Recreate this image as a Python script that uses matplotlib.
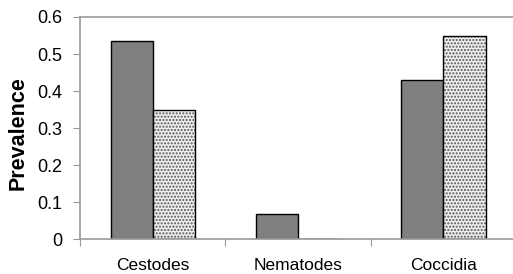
import matplotlib.pyplot as plt
import numpy as np

plt.rcParams['font.family'] = ['Liberation Sans', 'DejaVu Sans']

categorias = ['Cestodes', 'Nematodes', 'Coccidia']
serie1 = [0.535, 0.07, 0.43]
serie2 = [0.35, 0.0, 0.55]
ticks_y = [0, 0.1, 0.2, 0.3, 0.4, 0.5, 0.6]

fig = plt.figure(figsize=(5.13, 2.74), dpi=100)
ax = fig.add_axes([0.156, 0.126, 0.85, 0.812])

x = np.arange(len(categorias))
w = 0.29

# barras escuras
ax.bar(x + 0.5 - w / 2, serie1, w, color='#808080', edgecolor='black', linewidth=1)
# barras pontilhadas: preenchimento + hachura cinza, depois contorno preto
ax.bar(x + 0.5 + w / 2, serie2, w, color='#eeeeee', edgecolor='#555555', hatch='.....', linewidth=0)
ax.bar(x + 0.5 + w / 2, serie2, w, fill=False, edgecolor='black', linewidth=1)

ax.set_xlim(0, 3)
ax.set_ylim(0, 0.6)
ax.set_yticks(ticks_y)
ax.set_yticklabels(['0', '0.1', '0.2', '0.3', '0.4', '0.5', '0.6'])
ax.set_xticks([0, 1, 2, 3])
ax.set_xticklabels([])
ax.set_xticks(x + 0.5, minor=True)
ax.set_xticklabels(categorias, minor=True)
ax.tick_params(axis='x', which='minor', length=0, pad=13, labelsize=12.5)
ax.tick_params(axis='x', which='major', length=5, color='#999999')
ax.tick_params(axis='y', length=5, color='#999999', labelsize=13, pad=8)

for s in ['left', 'bottom', 'top']:
    ax.spines[s].set_color('#999999')
    ax.spines[s].set_linewidth(1.2)
ax.spines['right'].set_visible(False)

ax.set_ylabel('Prevalence', fontsize=15.5, fontweight='bold', va='center')
ax.yaxis.set_label_coords(-0.142, 0.48)

fig.savefig('out.png', dpi=100)
